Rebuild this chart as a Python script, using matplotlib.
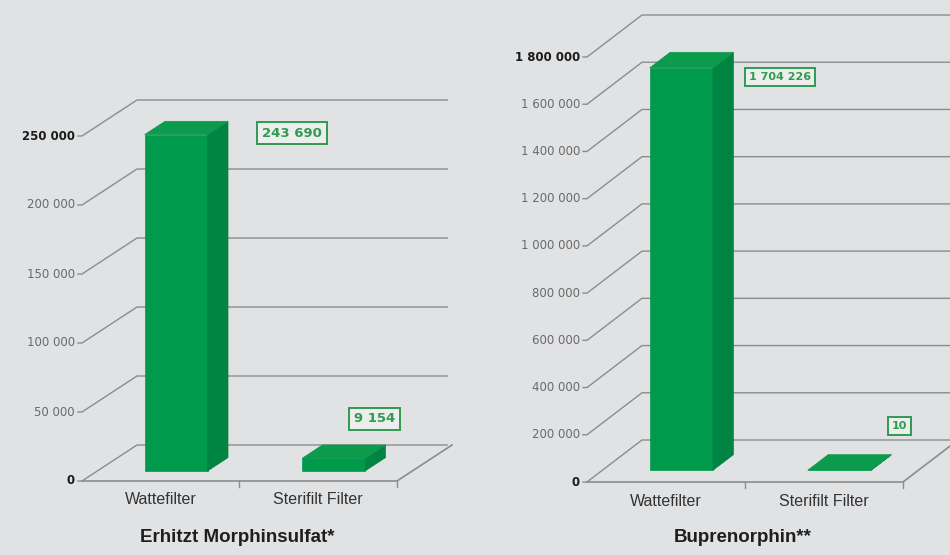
import numpy as np
import matplotlib.pyplot as plt
from matplotlib.patches import Polygon

# data
categories = ['Wattefilter', 'Sterifilt Filter']
morphin_values = [243690, 9154]
morphin_ticks = [0, 50000, 100000, 150000, 200000, 250000]
bupre_values = [1704226, 10]
bupre_ticks = [0, 200000, 400000, 600000, 800000, 1000000, 1200000, 1400000, 1600000, 1800000]
titles = ['Erhitzt Morphinsulfat*', 'Buprenorphin**']

BG = '#e1e2e4'
GRID = '#8c8c8c'
FRONT = '#009a4c'
SIDE = '#008442'
TOP = '#0c9a4c'
LABEL_GREEN = '#2f9a52'

W, H = 950, 555
fig = plt.figure(figsize=(W / 100, H / 100), dpi=100, facecolor=BG)


def fmt(v):
    return f'{v:,}'.replace(',', ' ')


def draw_chart(rect, values, ticks, title, depth, label_offsets, label_size):
    # rect is the front plane in pixels: left, bottom(from top), width, height
    x0, ybot, w_px, h_px = rect
    ax = fig.add_axes([x0 / W, (H - ybot) / H, w_px / W, h_px / H])
    ax.set_xlim(0, 2)
    ax.set_ylim(0, ticks[-1])
    ax.axis('off')
    ax.patch.set_alpha(0)

    DX = depth[0] / w_px * 2
    DY = depth[1] / h_px * ticks[-1]
    tick_dx = 4 / w_px * 2

    def P(x, y, d):
        return (x + d * DX, y + d * DY)

    # back wall grid + diagonals
    for t in ticks:
        pts = [(-tick_dx, t), P(0, t, 0), P(0, t, 1), P(1.97, t, 1)]
        ax.plot(*zip(*pts), color=GRID, lw=1.0, clip_on=False, zorder=1)
        bold = t == 0 or t == ticks[-1]
        ax.annotate(fmt(t), xy=(0, t), xytext=(-7, 0), textcoords='offset pixels',
                    ha='right', va='center', fontsize=8.5,
                    fontweight='bold' if bold else 'normal',
                    color='#1a1a1a' if bold else '#6a6a6a',
                    family='DejaVu Sans', annotation_clip=False)
    # floor
    floor = [P(0, 0, 0), P(2, 0, 0), P(2, 0, 1)]
    ax.plot(*zip(*floor), color=GRID, lw=1.2, clip_on=False, zorder=1)
    for xt in [1, 2]:
        ax.plot([xt, xt], [0, -6 / h_px * ticks[-1]], color=GRID, lw=1, clip_on=False)

    bw = 0.4
    f0, f1 = 0.28, 0.65
    for i, v in enumerate(values):
        c = i + 0.5
        l, r = c - bw / 2, c + bw / 2
        front = [P(l, 0, f0), P(r, 0, f0), P(r, v, f0), P(l, v, f0)]
        side = [P(r, 0, f0), P(r, 0, f1), P(r, v, f1), P(r, v, f0)]
        top = [P(l, v, f0), P(r, v, f0), P(r, v, f1), P(l, v, f1)]
        for poly, col in [(front, FRONT), (side, SIDE), (top, TOP)]:
            ax.add_patch(Polygon(poly, closed=True, facecolor=col, edgecolor=col,
                                 lw=0.5, clip_on=False, zorder=3))
        ox, oy = label_offsets[i]
        ax.annotate(fmt(v), xy=P(r, v, f1), xytext=(ox, oy), textcoords='offset pixels',
                    ha='center', va='center', fontsize=label_size, fontweight='bold',
                    color=LABEL_GREEN, annotation_clip=False, zorder=5,
                    bbox=dict(boxstyle='square,pad=0.35', fc='#eceeec',
                              ec=LABEL_GREEN, lw=1.4))
        ax.annotate(categories[i], xy=(c, 0), xytext=(0, -19), textcoords='offset pixels',
                    ha='center', va='center', fontsize=11.5, color='#333333',
                    family=['Liberation Sans', 'DejaVu Sans'],
                    annotation_clip=False)

    ax.annotate(title, xy=(1, 0), xytext=(-2, -56), textcoords='offset pixels',
                ha='center', va='center', fontsize=13.5, fontweight='bold', color='#1e1e1e',
                family=['Liberation Sans', 'DejaVu Sans'], annotation_clip=False)
    return ax


draw_chart((82, 481, 315, 345), morphin_values, morphin_ticks, titles[0],
           (55, 36), [(64, -12), (-11, 26)], 9.5)
draw_chart((587, 482, 316, 425), bupre_values, bupre_ticks, titles[1],
           (55, 42), [(47, -25), (8, 29)], 8)

fig.savefig('out.png', dpi=100, facecolor=BG)
